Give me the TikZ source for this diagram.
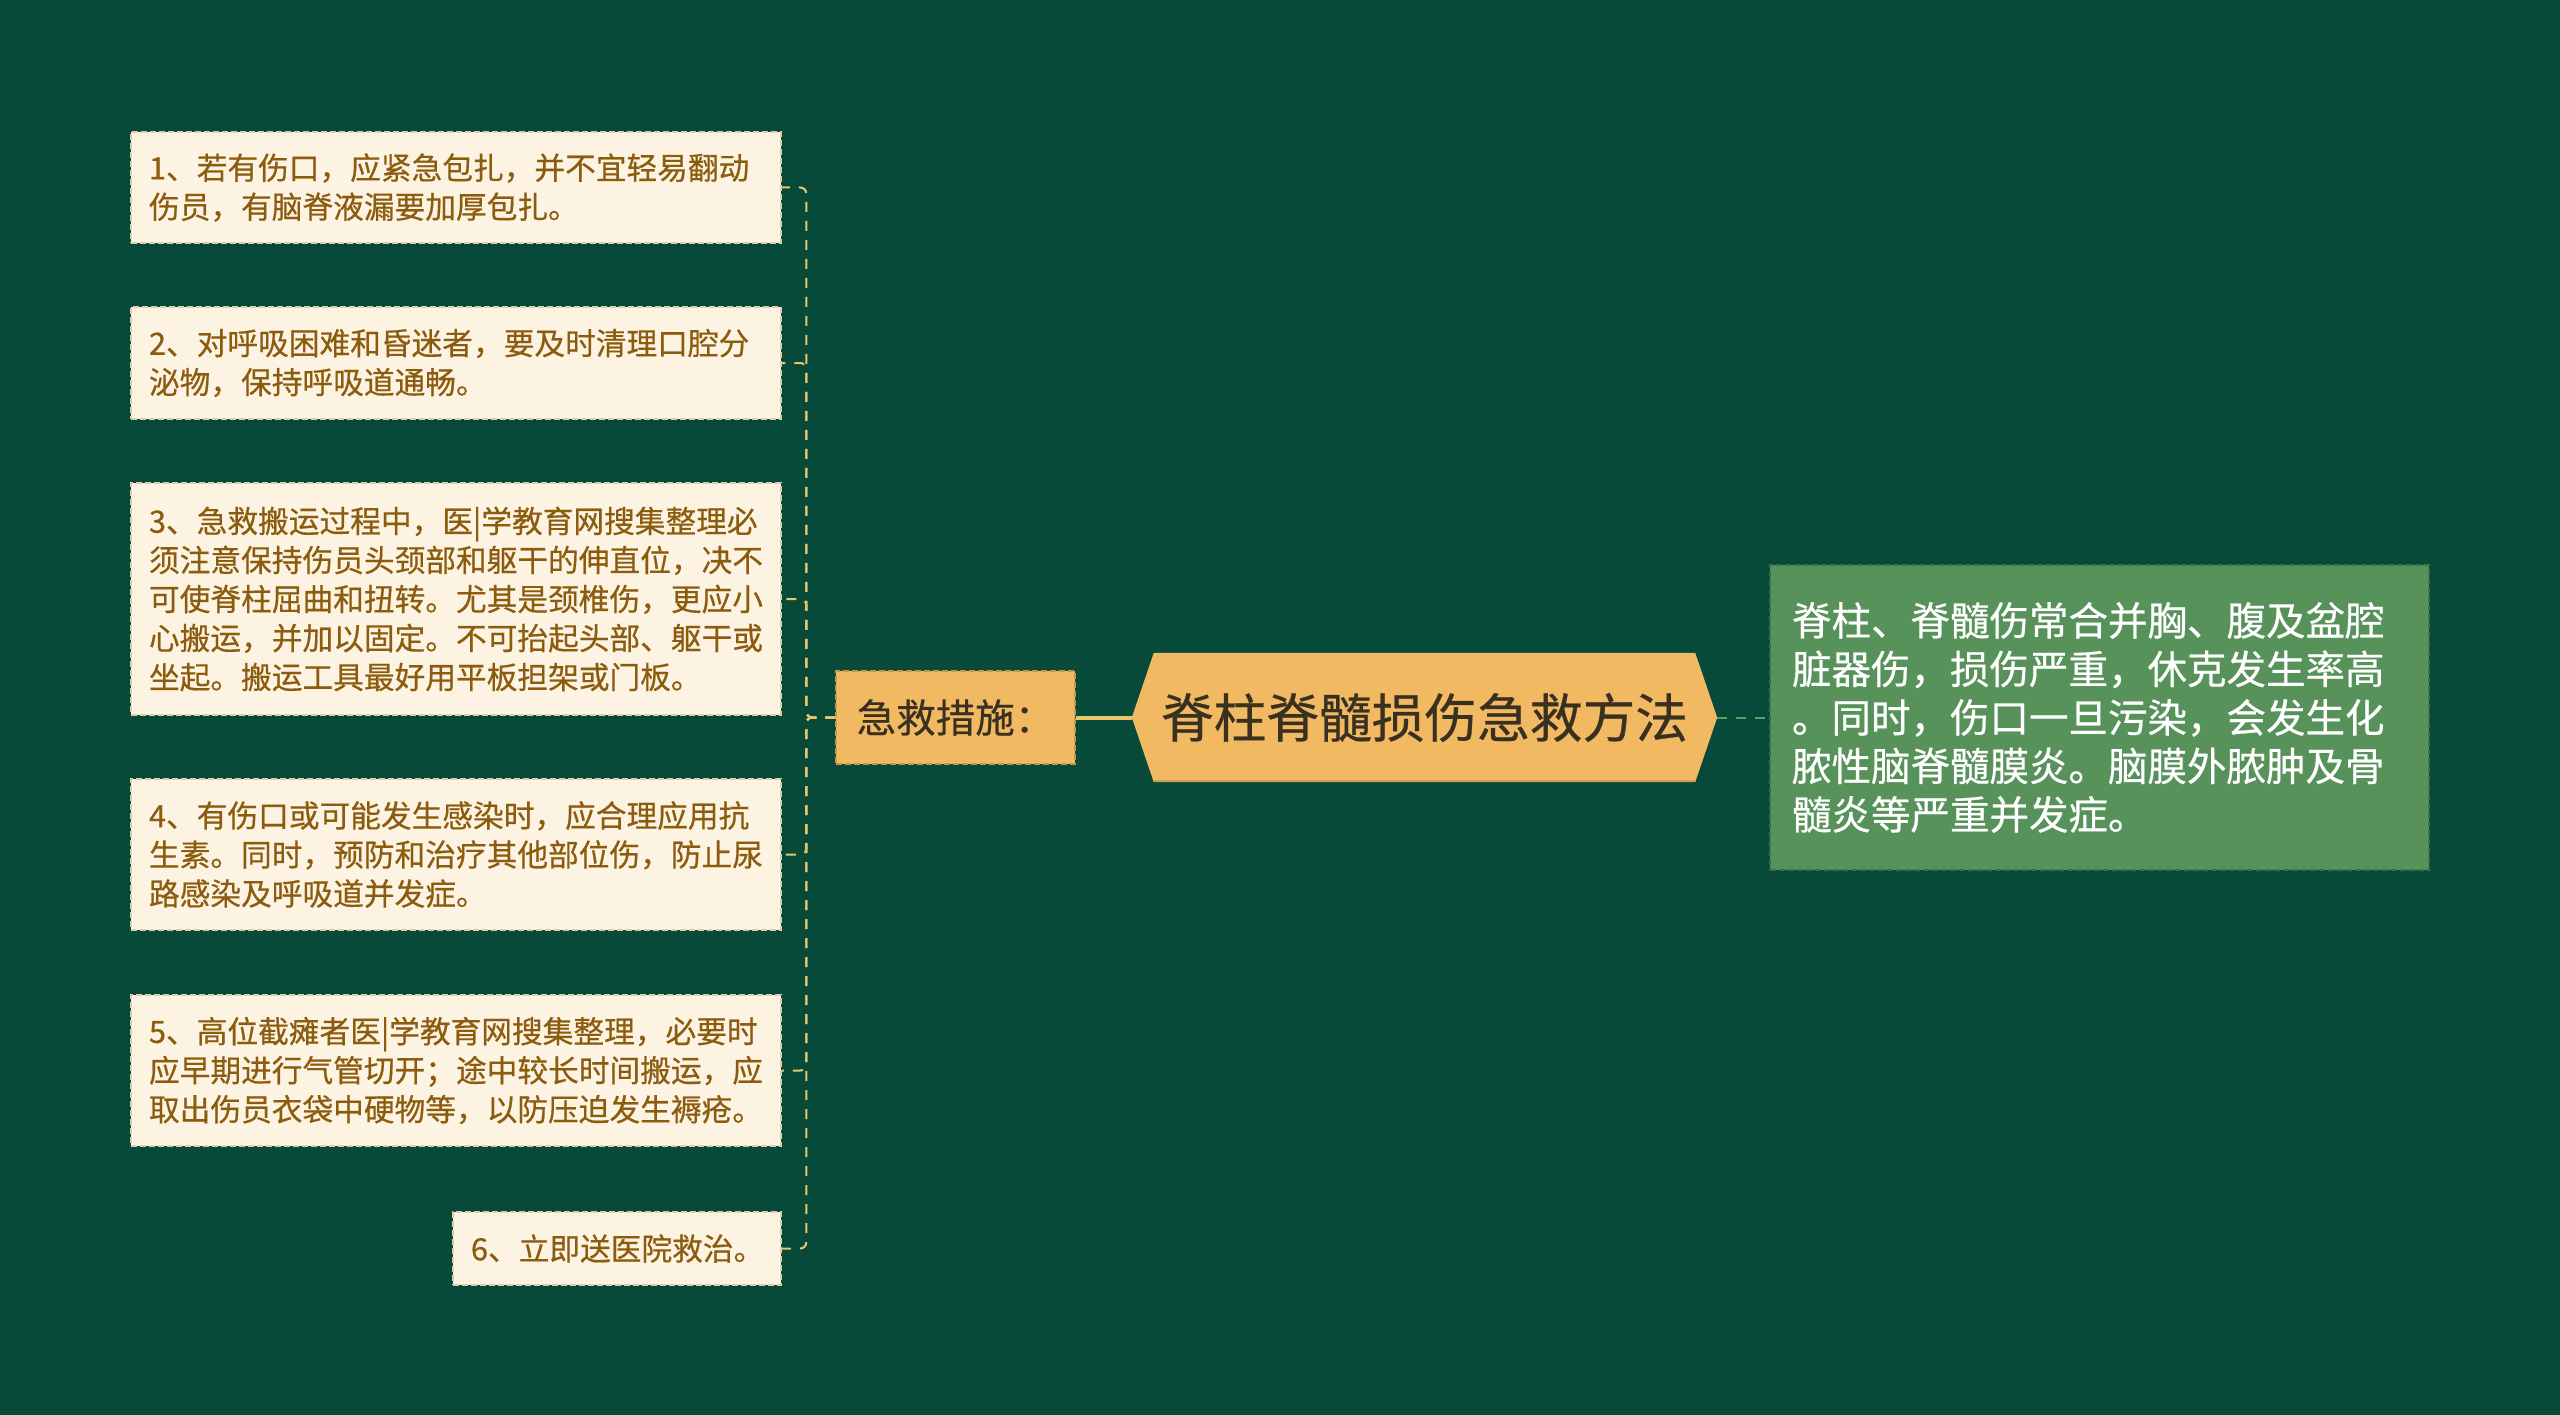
\documentclass[tikz,border=0pt]{standalone}
\usepackage{fontspec}
\setmainfont[FakeBold=0.5]{Noto Sans CJK SC}
\usetikzlibrary{calc}
\pgfdeclarelayer{bgl}
\pgfdeclarelayer{shapel}
\pgfsetlayers{bgl,shapel,main}
\definecolor{bgc}{RGB}{8,74,57}
\definecolor{cream}{RGB}{253,243,226}
\definecolor{creamline}{RGB}{222,205,170}
\definecolor{leaftext}{RGB}{140,92,14}
\definecolor{goldfill}{RGB}{240,185,98}
\definecolor{goldline}{RGB}{200,150,70}
\definecolor{connline}{RGB}{232,198,108}
\definecolor{maintext}{RGB}{58,48,32}
\definecolor{greenfill}{RGB}{86,146,90}
\definecolor{greenline}{RGB}{60,115,70}
\definecolor{greenconn}{RGB}{92,158,100}
\tikzset{
  leafbox/.style={draw=creamline, fill=cream, line width=1.5pt, dash pattern=on 6pt off 3pt,
    text=leaftext, font=\fontsize{30.7}{39}\selectfont, align=left, inner xsep=18pt, inner ysep=0pt,
    text width=614pt},
  subbox/.style={draw=goldline, fill=goldfill, line width=1.5pt, dash pattern=on 6pt off 3pt,
    text=maintext, font=\fontsize{39.5}{44}\selectfont, minimum width=239pt, minimum height=93pt, inner sep=0pt},
  greenbox/.style={draw=greenline, fill=greenfill, line width=1.5pt, dash pattern=on 6pt off 3pt,
    text=white, font=\fontsize{39.5}{48.5}\selectfont, align=left, inner xsep=22pt, inner ysep=0pt,
    text width=615pt, minimum height=305pt},
  conn/.style={draw=connline, line width=2pt, dash pattern=on 10pt off 9pt, rounded corners=6pt},
}
\begin{document}
\begin{tikzpicture}[x=1pt,y=-1pt]
\begin{pgfonlayer}{bgl}
\fill[bgc] (0,0) rectangle (2560,1415);
\end{pgfonlayer}
\useasboundingbox (0,0) rectangle (2560,1415);

% main node
\node[font=\fontsize{52.7}{60}\selectfont, text=maintext, minimum width=585pt, minimum height=129pt, inner sep=0pt] (main) at (1424.5,717.5) {脊柱脊髓损伤急救方法};
\begin{pgfonlayer}{shapel}
\fill[goldfill] (main.west) -- ([xshift=22pt]main.north west) -- ([xshift=-22pt]main.north east) -- (main.east) -- ([xshift=-22pt]main.south east) -- ([xshift=22pt]main.south west) -- cycle;
\draw[goldline!80!goldfill, line width=1.5pt] ([xshift=22pt,yshift=1pt]main.south west) -- ([xshift=-22pt,yshift=1pt]main.south east);
\end{pgfonlayer}

% sub node
\node[subbox] (sub) at (955.5,717.5) {急救措施：};

% right green node
\node[greenbox] (note) at (2099.5,717.5) {脊柱、脊髓伤常合并胸、腹及盆腔\\脏器伤，损伤严重，休克发生率高\\。同时，伤口一旦污染，会发生化\\脓性脑脊髓膜炎。脑膜外脓肿及骨\\髓炎等严重并发症。};

% leaves
\node[leafbox, minimum height=111pt] (c1) at (456,187.5) {1、若有伤口，应紧急包扎，并不宜轻易翻动\\伤员，有脑脊液漏要加厚包扎。};
\node[leafbox, minimum height=112pt] (c2) at (456,363) {2、对呼吸困难和昏迷者，要及时清理口腔分\\泌物，保持呼吸道通畅。};
\node[leafbox, minimum height=232pt] (c3) at (456,599) {3、急救搬运过程中，医|学教育网搜集整理必\\须注意保持伤员头颈部和躯干的伸直位，决不\\可使脊柱屈曲和扭转。尤其是颈椎伤，更应小\\心搬运，并加以固定。不可抬起头部、躯干或\\坐起。搬运工具最好用平板担架或门板。};
\node[leafbox, minimum height=151pt] (c4) at (456,854.5) {4、有伤口或可能发生感染时，应合理应用抗\\生素。同时，预防和治疗其他部位伤，防止尿\\路感染及呼吸道并发症。};
\node[leafbox, minimum height=151pt] (c5) at (456,1070.5) {5、高位截瘫者医|学教育网搜集整理，必要时\\应早期进行气管切开；途中较长时间搬运，应\\取出伤员衣袋中硬物等，以防压迫发生褥疮。};
\node[leafbox, text width=292pt, minimum height=73pt] (c6) at (617,1248.5) {6、立即送医院救治。};

% connectors
\draw[draw=connline, line width=4pt] (sub.east) -- (main.west);
\draw[draw=greenconn, line width=2pt, dash pattern=on 10pt off 9pt] (main.east) -- (note.west);
\foreach \c in {c1,c2,c3,c4,c5,c6}{
  \draw[conn] (sub.west) -- ++(-29,0) |- (\c.east);
}
\end{tikzpicture}
\end{document}
